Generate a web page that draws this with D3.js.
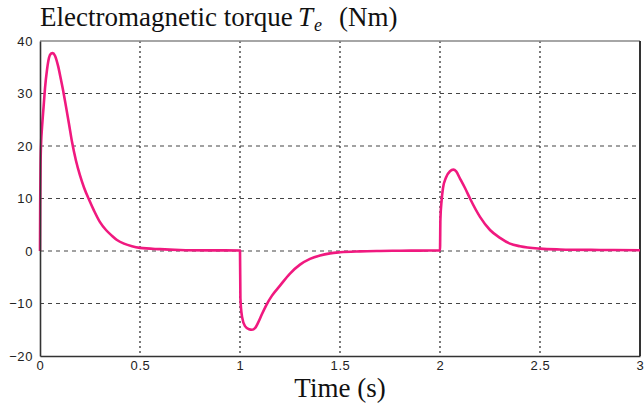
<!DOCTYPE html>
<html>
<head>
<meta charset="utf-8">
<script src="https://cdn.jsdelivr.net/npm/d3@7"></script>
<style>
  body { margin: 0; background: #fff; }
  svg { display: block; }
</style>
</head>
<body>
<svg id="chart"></svg>
<script>
// Data
var timeS = [0, 0.001, 0.003, 0.006, 0.01, 0.018, 0.025, 0.035, 0.045, 0.055, 0.063, 0.075, 0.09, 0.105, 0.117, 0.13, 0.145, 0.16, 0.18, 0.2, 0.22, 0.246, 0.27, 0.3, 0.33, 0.36, 0.385, 0.42, 0.46, 0.5, 0.6, 0.7, 0.85, 1.0,
  1.002, 1.01, 1.025, 1.045, 1.06, 1.075, 1.09, 1.11, 1.133, 1.16, 1.2, 1.25, 1.3, 1.35, 1.4, 1.45, 1.5, 1.6, 1.7, 1.8, 1.9, 2.0,
  2.002, 2.008, 2.015, 2.03, 2.05, 2.067, 2.08, 2.1, 2.125, 2.15, 2.2, 2.25, 2.3, 2.35, 2.4, 2.5, 2.6, 2.8, 3.0];
var torqueNm = [0, 9, 17, 21, 23.5, 27.5, 31, 34.5, 36.8, 37.6, 37.7, 37.2, 35.3, 32.6, 30.3, 27.5, 24.2, 20.8, 17.2, 14.4, 12.1, 9.7, 7.7, 5.5, 4, 2.9, 2.1, 1.4, 0.9, 0.6, 0.35, 0.2, 0.12, 0.1,
  -9, -12.5, -14.3, -14.9, -15, -14.7, -13.7, -12, -10.2, -8.5, -6.6, -4.3, -2.6, -1.5, -0.85, -0.45, -0.25, -0.08, 0, 0.05, 0.08, 0.1,
  6, 9.6, 12, 14, 15.2, 15.5, 15.2, 13.8, 12, 10, 6.5, 4, 2.5, 1.4, 0.9, 0.45, 0.3, 0.2, 0.15];
var xTicks = [0, 0.5, 1, 1.5, 2, 2.5, 3];
var yTicks = [-20, -10, 0, 10, 20, 30, 40];

var W = 644, H = 409;
var margin = { top: 41, right: 4, bottom: 53, left: 40 };
var width = W - margin.left - margin.right;
var height = H - margin.top - margin.bottom;

var root = d3.select("#chart").attr("width", W).attr("height", H);
var svg = root.append("g")
  .attr("transform", "translate(" + margin.left + "," + margin.top + ")");

var x = d3.scaleLinear().domain([0, 3]).range([0, width]);
var y = d3.scaleLinear().domain([-20, 40]).range([height, 0]);

// grid: dotted verticals, dashed horizontals
svg.selectAll(".vgrid")
  .data(xTicks.slice(1, -1))
  .enter().append("line")
  .attr("class", "vgrid")
  .attr("x1", function(d) { return x(d); })
  .attr("x2", function(d) { return x(d); })
  .attr("y1", 0).attr("y2", height)
  .style("stroke", "#333")
  .style("stroke-width", 1.3)
  .style("stroke-dasharray", "2,3");

svg.selectAll(".hgrid")
  .data(yTicks.slice(1, -1))
  .enter().append("line")
  .attr("class", "hgrid")
  .attr("x1", 0).attr("x2", width)
  .attr("y1", function(d) { return y(d); })
  .attr("y2", function(d) { return y(d); })
  .style("stroke", "#444")
  .style("stroke-width", 1.2)
  .style("stroke-dasharray", "4,4");

// frame
svg.append("line").attr("x1", 0).attr("x2", width).attr("y1", 0).attr("y2", 0)
  .style("stroke", "#888").style("stroke-width", 1.5);
svg.append("line").attr("x1", width).attr("x2", width).attr("y1", 0).attr("y2", height)
  .style("stroke", "#333").style("stroke-width", 2);

// curve
var points = timeS.map(function(t, i) { return { t: t, v: torqueNm[i] }; });
var line = d3.line()
  .x(function(d) { return x(d.t); })
  .y(function(d) { return y(d.v); })
  .curve(d3.curveMonotoneX);

svg.append("path")
  .datum(points)
  .attr("d", line)
  .style("fill", "none")
  .style("stroke", "#f0197f")
  .style("stroke-width", 2.6)
  .style("stroke-linejoin", "round");

// axes
var yAxis = svg.append("g")
  .call(d3.axisLeft(y).tickValues(yTicks).tickSize(0).tickPadding(7).tickFormat(d3.format("d")));
var xAxis = svg.append("g")
  .attr("transform", "translate(0," + height + ")")
  .call(d3.axisBottom(x).tickValues(xTicks).tickSize(0).tickPadding(5).tickFormat(function(d) { return d; }));

[yAxis, xAxis].forEach(function(a) {
  a.select(".domain").style("stroke", "#333").style("stroke-width", 1.6);
  a.selectAll("text")
    .style("font-family", "'Liberation Sans', Arial, sans-serif")
    .style("font-size", "13px")
    .style("letter-spacing", "0.6px")
    .style("fill", "#222");
});

// titles
var title = root.append("text")
  .attr("y", 26)
  .style("font-family", "'Liberation Serif', 'Times New Roman', serif")
  .style("font-size", "27px")
  .style("fill", "#111");
title.append("tspan").attr("x", 40).text("Electromagnetic torque");
title.append("tspan").attr("x", 298).style("font-style", "italic").text("T");
title.append("tspan").attr("x", 314).attr("dy", 5).style("font-style", "italic").style("font-size", "18px").text("e");
title.append("tspan").attr("x", 339).attr("dy", -5).text("(Nm)");

root.append("text")
  .attr("x", 340).attr("y", 397)
  .attr("text-anchor", "middle")
  .style("font-family", "'Liberation Serif', 'Times New Roman', serif")
  .style("font-size", "27px")
  .style("fill", "#111")
  .text("Time (s)");
</script>
</body>
</html>
